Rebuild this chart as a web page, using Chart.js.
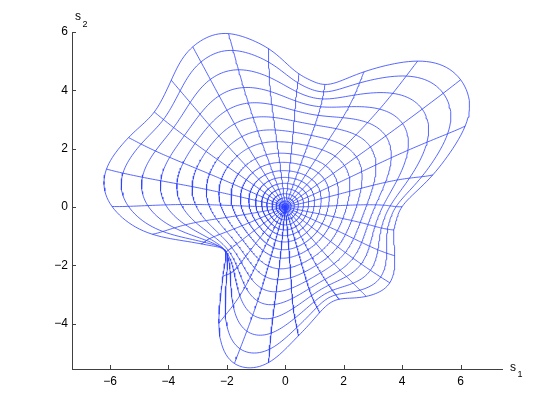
<!DOCTYPE html>
<html>
<head>
<meta charset="utf-8">
<script src="https://cdn.jsdelivr.net/npm/chart.js@4.4.1/dist/chart.umd.min.js"></script>
<style>
  html, body { margin: 0; padding: 0; background: #fff; }
</style>
</head>
<body>
<canvas id="meshChart" width="554" height="415"></canvas>
<script>
// Boundary of the region: radius every 6 degrees
const boundaryAngles = [
  0, 6, 12, 18, 24, 30, 36, 42, 48, 54, 60, 66, 72, 78, 84, 90, 96, 102, 108, 114,
  120, 126, 132, 138, 144, 150, 156, 162, 168, 174, 180, 186, 192, 198, 204, 210, 216, 222, 228, 234,
  240, 246, 252, 258, 264, 270, 276, 282, 288, 294, 300, 306, 312, 318, 324, 330, 336, 342, 348, 354
];
const boundaryRadius = [
  3.94, 4.43, 5.20, 5.90, 6.85, 7.35, 7.48, 7.33, 6.80, 6.05, 5.36, 4.75, 4.32, 4.45, 4.52, 4.98, 5.50, 5.90, 6.32, 6.44,
  6.37, 6.17, 5.82, 5.63, 5.50, 5.65, 5.88, 6.10, 6.31, 6.28, 6.00, 5.40, 4.72, 3.72, 3.12, 2.74, 2.44, 2.78, 3.18, 3.76,
  4.63, 5.36, 5.73, 5.68, 5.44, 4.89, 4.43, 4.10, 3.80, 3.63, 3.62, 3.88, 4.15, 4.38, 4.48, 4.32, 4.12, 3.90, 3.78, 3.84
];

// Mesh lines: 30 spokes (end angle on the boundary) and 20 rings
const spokeAngles = [
  0, 12, 24, 36, 48, 60, 72, 84, 96, 108, 120, 132, 144, 156, 168,
  180, 192, 204, 216, 228, 240, 252, 264, 276, 288, 300, 312, 324, 336, 348
];
// ring size as a share of the boundary, read along the long lobes
const ringLevels = [
  0.0025, 0.01, 0.0225, 0.04, 0.0625, 0.09, 0.125, 0.16, 0.2, 0.245,
  0.30, 0.36, 0.435, 0.51, 0.59, 0.67, 0.75, 0.835, 0.922, 1.0
];

const xTicks = [-6, -4, -2, 0, 2, 4, 6];
const yTicks = [-4, -2, 0, 2, 4, 6];

const lineColor = "rgb(45, 65, 255)";
const fontFamily = "'Liberation Sans', Arial, Helvetica, sans-serif";
const deg = Math.PI / 180;
const lobeFade = 1.4;   // how fast the boundary lobes fade toward the centre

// Fourier coefficients of the boundary curve b(t) = r(t) e^{it}
const N = boundaryRadius.length;
const coef = [];
for (let k = -N / 2 + 1; k <= N / 2 - 1; k++) {
  let re = 0, im = 0;
  for (let j = 0; j < N; j++) {
    const t = boundaryAngles[j] * deg;
    const bx = boundaryRadius[j] * Math.cos(t);
    const by = boundaryRadius[j] * Math.sin(t);
    const a = -k * t;
    re += bx * Math.cos(a) - by * Math.sin(a);
    im += bx * Math.sin(a) + by * Math.cos(a);
  }
  // Lanczos factor keeps the corners but damps the ringing between readings
  const z = Math.PI * k / (N / 2);
  const smooth = k === 0 ? 1 : Math.sin(z) / z;
  coef.push({ k: k, re: smooth * re / N, im: smooth * im / N });
}

// Mesh point for ring parameter u (0 = centre, 1 = boundary) and angle t
function mapPoint(u, t) {
  let x = 0, y = 0;
  const d = Math.pow(1 - u, 1.5);
  for (const c of coef) {
    const m = Math.abs(c.k);
    const p = m === 0 ? u * u : u * Math.exp(-lobeFade * (m - 1) * d);
    const a = c.k * t;
    x += p * (c.re * Math.cos(a) - c.im * Math.sin(a));
    y += p * (c.re * Math.sin(a) + c.im * Math.cos(a));
  }
  return { x: x, y: y };
}

const datasets = [];
ringLevels.forEach(u => {
  const pts = [];
  for (let a = 0; a <= 360; a += 1) pts.push(mapPoint(u, a * deg));
  datasets.push({ data: pts });
});
spokeAngles.forEach(a => {
  const pts = [];
  for (let i = 0; i <= 80; i++) pts.push(mapPoint(i / 80, a * deg));
  datasets.push({ data: pts });
});
datasets.forEach(ds => {
  ds.showLine = true;
  ds.borderColor = lineColor;
  ds.borderWidth = 0.8;
  ds.pointRadius = 0;
  ds.fill = false;
  ds.clip = false;
});

const fmt = v => (v < 0 ? "\u2212" + Math.abs(v) : String(v));

// Inward tick marks and the s1 / s2 axis labels
const axisDecor = {
  id: "axisDecor",
  afterDraw(chart) {
    const { ctx, chartArea, scales } = chart;
    ctx.save();
    ctx.strokeStyle = "#404040";
    ctx.lineWidth = 1;
    xTicks.forEach(v => {
      const px = Math.round(scales.x.getPixelForValue(v)) + 0.5;
      ctx.beginPath();
      ctx.moveTo(px, chartArea.bottom);
      ctx.lineTo(px, chartArea.bottom - 4);
      ctx.stroke();
    });
    yTicks.forEach(v => {
      const py = Math.round(scales.y.getPixelForValue(v)) + 0.5;
      ctx.beginPath();
      ctx.moveTo(chartArea.left, py);
      ctx.lineTo(chartArea.left + 4, py);
      ctx.stroke();
    });
    ctx.fillStyle = "#000";
    ctx.textBaseline = "alphabetic";
    ctx.font = "12px " + fontFamily;
    ctx.fillText("s", 510, 370.5);
    ctx.fillText("s", 75, 20);
    ctx.font = "9px " + fontFamily;
    ctx.fillText("1", 517.5, 376.5);
    ctx.fillText("2", 82.5, 26.5);
    ctx.restore();
  }
};

const meshChart = new Chart(document.getElementById("meshChart"), {
  type: "scatter",
  data: { datasets: datasets },
  options: {
    responsive: false,
    animation: false,
    layout: { padding: { top: 32, right: 52, left: 0, bottom: 0 } },
    plugins: { legend: { display: false }, tooltip: { enabled: false } },
    elements: { line: { tension: 0 } },
    scales: {
      x: {
        type: "linear",
        min: -7.3,
        max: 7.42,
        grid: { display: false, drawTicks: false },
        border: { display: true, color: "#404040", width: 1 },
        ticks: { stepSize: 2, includeBounds: false, padding: 5, color: "#000",
                 font: { family: fontFamily, size: 12 }, callback: fmt },
        afterFit: s => { s.height = 46; }
      },
      y: {
        type: "linear",
        min: -5.56,
        max: 6,
        grid: { display: false, drawTicks: false },
        border: { display: true, color: "#404040", width: 1 },
        ticks: { stepSize: 2, includeBounds: false, padding: 4, color: "#000",
                 font: { family: fontFamily, size: 12 }, callback: fmt },
        afterFit: s => { s.width = 72; }
      }
    }
  },
  plugins: [axisDecor]
});
</script>
</body>
</html>
